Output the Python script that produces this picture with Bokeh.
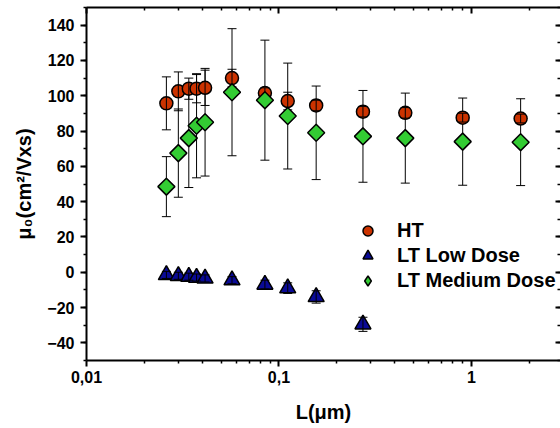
from bokeh.plotting import figure
from bokeh.models import (FixedTicker, SingleIntervalTicker, LinearAxis, LogAxis, CustomJSTickFormatter,
                          LegendItem, Legend)
from bokeh.embed import file_html
from bokeh.resources import INLINE

# ---- data ----
L = [0.026, 0.030, 0.034, 0.0373, 0.0413, 0.057, 0.0845, 0.111, 0.156, 0.273, 0.453, 0.90, 1.80]
ht = [95.7, 102.5, 104.0, 104.0, 104.5, 110.0, 101.5, 97.0, 94.5, 91.0, 90.3, 87.6, 87.1]
ht_err = [15, 11, 6, 8, 10, 5, 3, 5, 3, 3, 3, 2.5, 2.5]
L_low = [0.026, 0.030, 0.034, 0.0373, 0.0413, 0.057, 0.0845, 0.111, 0.156, 0.273]
low = [-1.5, -2.0, -2.5, -3.0, -3.5, -4.5, -7.0, -9.0, -14.0, -29.5]
low_err = [2, 2, 2, 2, 2, 2, 2.5, 3, 3.5, 4]
med = [48.5, 67.5, 76.0, 83.0, 85.0, 102.0, 97.5, 88.5, 79.0, 77.0, 76.0, 74.0, 73.7]
med_err = [17, 25, 28, 29.5, 30.5, 36, 34, 30, 26.5, 26, 25.5, 24.7, 24.6]
names = ["HT", "LT Low Dose", "LT Medium Dose"]

x_major = [0.01, 0.1, 1]
x_minor = [m * d for d in (0.01, 0.1, 1) for m in range(2, 10)]

FONT = "Liberation Sans"

p = figure(width=560, height=428, x_axis_type="log", x_range=(0.01, 2.9), y_range=(-50, 150),
           output_backend="svg", toolbar_location=None,
           min_border_left=86, min_border_right=0, min_border_top=7, min_border_bottom=68)
p.grid.visible = False
p.outline_line_color = None


def errbars(xs, ys, es, color="black"):
    lo = [y - e for y, e in zip(ys, es)]
    hi = [y + e for y, e in zip(ys, es)]
    p.segment(x0=xs, y0=lo, x1=xs, y1=hi, line_color=color, line_width=1)
    p.scatter(xs, lo, marker="dash", size=9, line_color=color, line_width=1)
    p.scatter(xs, hi, marker="dash", size=9, line_color=color, line_width=1)


errbars(L, med, med_err)
r_ht = p.scatter(L, ht, marker="circle", size=13, fill_color="#cc3300", line_color="black", line_width=1.5)
errbars(L, ht, ht_err)
r_low = p.scatter(L_low, low, marker="triangle", size=16, fill_color="#0a0a96", line_color="black",
                  line_width=1.5)
errbars(L_low, low, low_err)
# narrow diamond (hidden under the rotated squares) used for the legend symbol
r_med_leg = p.scatter(L, med, marker="diamond", size=11, fill_color="#33cc33", line_color="black",
                      line_width=1.5)
p.scatter(L, med, marker="square", angle=0.785398, size=12, fill_color="#33cc33", line_color="black",
          line_width=1.5)

fmt = CustomJSTickFormatter(code="return tick.toString().replace('.', ',');")


def style(ax, tick_in, tick_out, labels=True):
    ax.axis_line_width = 2
    ax.axis_line_color = "black"
    ax.major_tick_line_width = 2
    ax.minor_tick_line_width = 1.5
    ax.major_tick_in = tick_in[0]
    ax.major_tick_out = tick_out[0]
    ax.minor_tick_in = tick_in[1]
    ax.minor_tick_out = tick_out[1]
    if labels:
        ax.major_label_text_font = FONT
        ax.major_label_text_font_style = "bold"
        ax.major_label_text_font_size = "16px"
        ax.major_label_text_color = "black"
        ax.axis_label_text_font = FONT
        ax.axis_label_text_font_style = "bold"
        ax.axis_label_text_font_size = "20px"
        ax.axis_label_text_color = "black"
    else:
        ax.major_label_text_font_size = "1px"
        ax.major_label_text_alpha = 0
        ax.major_label_standoff = 0


xb = p.xaxis[0]
xb.ticker = FixedTicker(ticks=x_major, minor_ticks=x_minor)
xb.formatter = fmt
xb.axis_label = "L(μm)"
style(xb, (0, 0), (6, 3))
xb.major_label_standoff = 4
xb.axis_label_standoff = 15

yl = p.yaxis[0]
yl.ticker = SingleIntervalTicker(interval=20, num_minor_ticks=2)
yl.axis_label = "μ₀(cm²/Vxs)"
style(yl, (0, 0), (6, 3))
yl.major_label_standoff = 6
yl.axis_label_standoff = 9

xt = LogAxis(ticker=FixedTicker(ticks=x_major, minor_ticks=x_minor))
style(xt, (6, 3), (0, 0), labels=False)
p.add_layout(xt, "above")

yr = LinearAxis(ticker=SingleIntervalTicker(interval=20, num_minor_ticks=2))
style(yr, (5, 3), (0, 0), labels=False)
yr.axis_line_color = None
p.add_layout(yr, "right")

lg = Legend(items=[LegendItem(label=names[0], renderers=[r_ht]),
                   LegendItem(label=names[1], renderers=[r_low]),
                   LegendItem(label=names[2], renderers=[r_med_leg])])
lg.location = (269, 67)
lg.background_fill_alpha = 0
lg.border_line_alpha = 0
lg.padding = 0
lg.margin = 0
lg.spacing = 0
lg.glyph_width = 25
lg.glyph_height = 25
lg.label_height = 25
lg.label_standoff = 17
lg.label_text_font = FONT
lg.label_text_font_style = "bold"
lg.label_text_font_size = "20px"
lg.label_text_color = "black"
p.add_layout(lg, "center")

open("out.html", "w").write(file_html(p, INLINE))
